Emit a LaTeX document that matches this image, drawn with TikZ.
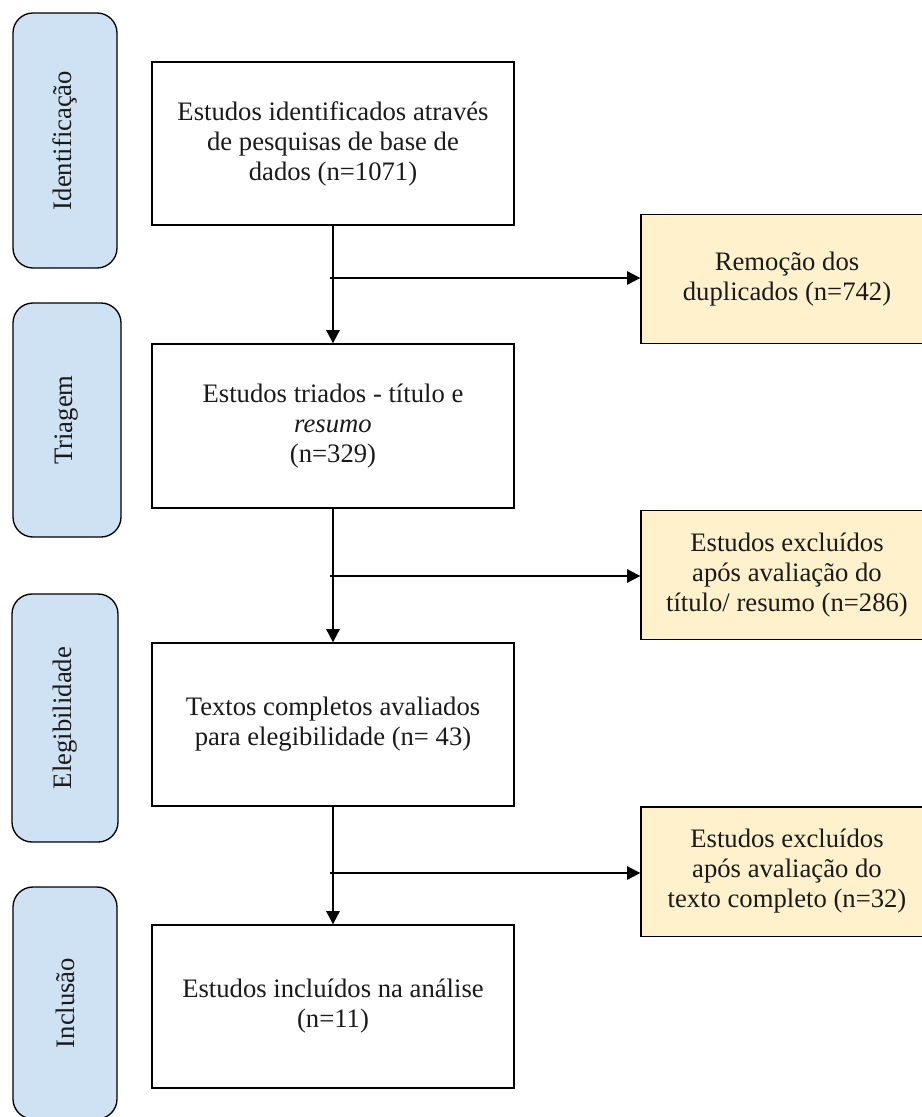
\documentclass[tikz,border=0pt]{standalone}
\usepackage{fontspec}
\setmainfont{Liberation Serif}
\usetikzlibrary{arrows.meta}
\definecolor{stageblue}{HTML}{CFE2F3}
\definecolor{exclyellow}{HTML}{FFF1CC}
\definecolor{textgray}{HTML}{1A1A1A}
\tikzset{
	boxfont/.style={font=\fontsize{20}{22.5}\selectfont, text=textgray},
	stage/.style={boxfont, draw, line width=1pt, fill=stageblue, rounded corners=15pt, rotate=90, minimum height=78pt},
	studybox/.style={boxfont, draw, line width=1pt, align=center, minimum width=271.5pt, minimum height=122.25pt},
	exclbox/.style={boxfont, draw, line width=1pt, fill=exclyellow, align=center, minimum width=219pt, minimum height=97pt},
	flow/.style={line width=1.5pt, -{Triangle[length=10pt,width=10pt]}}
}

\begin{document}
\begin{tikzpicture}[x=0.75pt, y=-0.75pt]
		%%%%% START %%%%%
		\useasboundingbox (0, 0) rectangle (921, 1117);
		
		% stages on the left
		\node[stage, minimum width=191.25pt] (ident) at (65, 140.5) {Identificação};
		\node[stage, minimum width=175.5pt, minimum height=81pt] (triag) at (67, 420) {Triagem};
		\node[stage, minimum width=186pt, minimum height=79.5pt] (eleg) at (65, 718) {Elegibilidade};
		\node[stage, minimum width=174pt] (incl) at (65, 1003) {Inclusão};
		
		% main column
		\node[studybox] (found) at (333, 143.5) {Estudos identificados através\\de pesquisas de base de\\dados (n=1071)};
		\node[studybox, minimum height=123pt] (screened) at (333, 426) {Estudos triados - título e\\\textit{resumo}\\(n=329)};
		\node[studybox] (fulltext) at (333, 724.5) {Textos completos avaliados\\para elegibilidade (n= 43)};
		\node[studybox] (included) at (333, 1006.5) {Estudos incluídos na análise\\(n=11)};
		
		% excluded on the right
		\node[exclbox] (dupl) at (787, 279) {Remoção dos\\duplicados (n=742)};
		\node[exclbox] (exclA) at (787, 575) {Estudos excluídos\\após avaliação do\\título/ resumo (n=286)};
		\node[exclbox] (exclB) at (787, 871.5) {Estudos excluídos\\após avaliação do\\texto completo (n=32)};
		
		\coordinate (splitA) at (333, 278);
		\coordinate (splitB) at (333, 576);
		\coordinate (splitC) at (333, 873);
		
		\draw[flow] (found) -- (screened);
		\draw[flow] (screened) -- (fulltext);
		\draw[flow] (fulltext) -- (included);
		
		\draw[flow] ([xshift=-2pt]splitA) -- (splitA -| dupl.west);
		\draw[flow] ([xshift=-2pt]splitB) -- (splitB -| exclA.west);
		\draw[flow] ([xshift=-2pt]splitC) -- (splitC -| exclB.west);
		%%%%% END %%%%%
	\end{tikzpicture}
\end{document}
